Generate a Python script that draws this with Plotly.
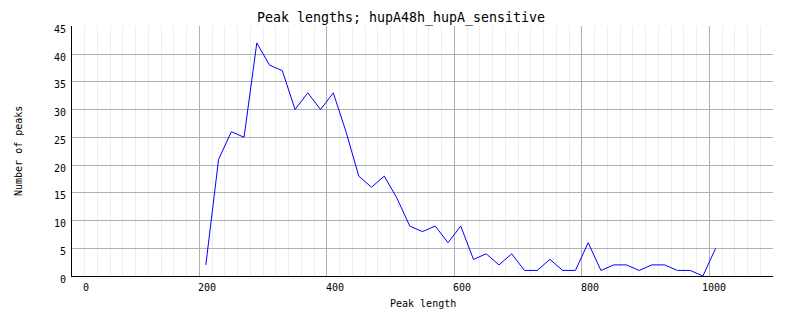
import plotly.graph_objects as go

# Data
peak_length = [210, 230, 250, 270, 290, 310, 330, 350, 370, 390, 410, 430, 450, 470,
               490, 510, 530, 550, 570, 590, 610, 630, 650, 670, 690, 710, 730, 750,
               770, 790, 810, 830, 850, 870, 890, 910, 930, 950, 970, 990, 1010]
num_peaks = [2, 21, 26, 25, 42, 38, 37, 30, 33, 30, 33, 26, 18, 16,
             18, 14, 9, 8, 9, 6, 9, 3, 4, 2, 4, 1, 1, 3,
             1, 1, 6, 1, 2, 2, 1, 2, 2, 1, 1, 0, 5]
x_tick_vals = [0, 200, 400, 600, 800, 1000]
x_tick_labels = ["0", "200", "400", "600", "800", "1000"]
y_tick_vals = [0, 5, 10, 15, 20, 25, 30, 35, 40, 45]

title_text = "Peak lengths; hupA48h_hupA_sensitive"
x_title = "Peak length"
y_title = "Number of peaks"

FONT = "DejaVu Sans Mono"
W, H = 802, 328

fig = go.Figure()
fig.add_trace(go.Scatter(x=peak_length, y=num_peaks, mode="lines",
                         line=dict(color="#0000ff", width=1), showlegend=False,
                         hoverinfo="skip"))

fig.update_layout(
    width=W, height=H,
    margin=dict(l=72, r=29, t=26, b=52),
    paper_bgcolor="white", plot_bgcolor="white",
    font=dict(family=FONT, size=10, color="black"),
    title=dict(text=title_text, x=0.5, xref="container", xanchor="center",
               y=1 - 17.5 / H, yref="container", yanchor="middle",
               font=dict(family=FONT, size=13.3, color="black")),
)

fig.update_xaxes(
    range=[0, 1100], tickvals=x_tick_vals, showticklabels=False,
    showgrid=True, gridcolor="#b0b0b0", gridwidth=1,
    minor=dict(dtick=20, showgrid=True, gridcolor="#eeeeee", gridwidth=1),
    showline=True, linecolor="black", linewidth=1,
    zeroline=False, ticks="",
)
fig.update_yaxes(
    range=[0, 45.05], tickvals=y_tick_vals,
    showgrid=True, gridcolor="#b0b0b0", gridwidth=1,
    showline=True, linecolor="black", linewidth=1,
    zeroline=False, ticks="", ticklabelshift=3, ticklabelstandoff=3,
    tickfont=dict(family=FONT, size=10, color="black"),
)

# x tick labels (right-aligned, offset to the right of gridlines as in reference)
for v, t in zip(x_tick_vals, x_tick_labels):
    fig.add_annotation(x=v, y=0, xref="x", yref="y", text=t, showarrow=False,
                       xanchor="right", yanchor="middle", xshift=19, yshift=-11.5,
                       font=dict(family=FONT, size=10, color="black"))

# axis titles
fig.add_annotation(x=0.5, y=0, xref="paper", yref="paper", text=x_title,
                   showarrow=False, xanchor="center", yanchor="middle", yshift=-27,
                   font=dict(family=FONT, size=10, color="black"))
fig.add_annotation(x=0, y=0.5, xref="paper", yref="paper", text=y_title,
                   showarrow=False, xanchor="center", yanchor="middle", xshift=-54,
                   textangle=-90,
                   font=dict(family=FONT, size=10, color="black"))

fig.write_html("out.html")
